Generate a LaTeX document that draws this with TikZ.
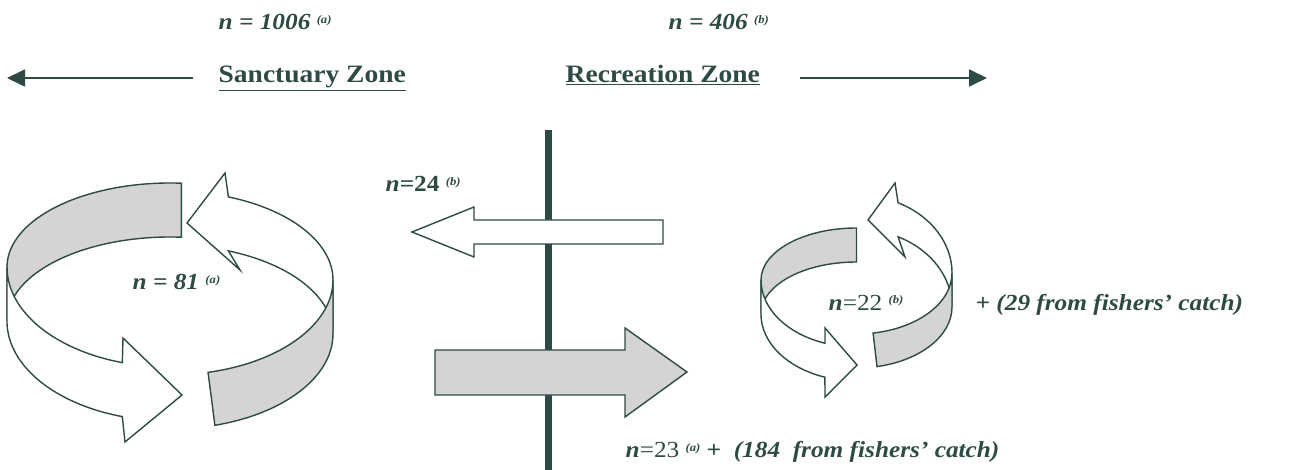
\documentclass[tikz,border=0pt]{standalone}
\usepackage{fontspec}
\setmainfont{Liberation Serif}[FakeStretch=1.1]
\usetikzlibrary{arrows.meta}
\definecolor{ink}{HTML}{2E4A44}
\definecolor{band}{HTML}{D4D4D4}
\newcommand{\fnmark}[1]{\raisebox{6pt}{\fontsize{11.5}{11.5}\selectfont\bfseries\itshape (#1)}}

\begin{document}
\begin{tikzpicture}[x=1pt, y=-1pt, color=ink, line width=1.4pt,
  zonelabel/.style={anchor=base west, inner sep=0pt, font=\fontsize{25}{25}\selectfont\bfseries},
  nlabel/.style={anchor=base west, inner sep=0pt, font=\fontsize{23}{23}\selectfont\bfseries\itshape},
  zonearrow/.style={line width=1.8pt, -{Triangle[length=18pt, width=17pt]}},
  ribbon/.style={draw=ink, fill=white, line join=miter},
  ribbonback/.style={ribbon, fill=band}]
\useasboundingbox (0,0) rectangle (1301,470);
% zone headings
\node[nlabel] (nSanct) at (218,30) {n = 1006 \fnmark{a}};
\node[nlabel] (nRecr) at (668,30) {n = 406 \fnmark{b}};
\node[zonelabel] (sanct) at (218,83) {\underline{Sanctuary Zone}};
\node[zonelabel] (recr) at (565,83) {\underline{Recreation Zone}};
\coordinate (westTail) at (193,78);
\coordinate (westTip) at (7,78);
\coordinate (eastTail) at (800,78);
\coordinate (eastTip) at (987,78);
\draw[zonearrow] (westTail) -- (westTip);
\draw[zonearrow] (eastTail) -- (eastTip);
% zone boundary
\draw[line width=7pt] (548,130) -- (548,470);
% movement across the boundary
\draw[ribbon] (474,220) -- (663,220) -- (663,244) -- (474,244) -- (474,257) -- (412,232) -- (474,207) -- cycle;
\draw[ribbonback] (435,350) -- (625,350) -- (625,328) -- (687,372) -- (625,417) -- (625,395) -- (435,395) -- cycle;
\node[nlabel] (n24) at (385,192) {n\textup{=24} \fnmark{b}};
\node[nlabel] (n23) at (625,457) {n{\normalfont=23} \fnmark{a} + ~(184 ~from fishers' catch)};
% sanctuary ring
\draw[ribbonback] (181.4,183.2) arc[start angle=274, end angle=180, x radius=163, y radius=84] -- ++(0,54) arc[start angle=180, end angle=274, x radius=163, y radius=84] -- cycle;
\draw[ribbon] (7,267) arc[start angle=180, end angle=107, x radius=163, y radius=100] -- (123,338) -- (182,395) -- (125,442) -- (122.3,416.6) arc[start angle=107, end angle=180, x radius=163, y radius=100] -- cycle;
\draw[ribbon] (187,223) -- (225,173) -- (228.4,196.9) arc[start angle=291, end angle=360, x radius=163, y radius=89] -- ++(0,54) arc[start angle=360, end angle=291, x radius=163, y radius=89] -- (240,270) -- cycle;
\draw[ribbonback] (333,280) arc[start angle=0, end angle=76.5, x radius=163, y radius=95] -- (214.9,425.3) arc[start angle=74, end angle=0, x radius=163, y radius=95] -- cycle;
\node[nlabel] (n81) at (132,290) {n = 81 \fnmark{a}};
% recreation ring
\draw[ribbonback] (856.5,228) arc[start angle=270, end angle=180, x radius=95.5, y radius=52] -- ++(0,34) arc[start angle=180, end angle=270, x radius=95.5, y radius=52] -- cycle;
\draw[ribbon] (761,280) arc[start angle=180, end angle=109.3, x radius=95.5, y radius=67] -- (825,328) -- (857,365) -- (825,397) -- (824.9,377.2) arc[start angle=109.3, end angle=180, x radius=95.5, y radius=67] -- cycle;
\draw[ribbon] (868,220) -- (895,183) -- (898.1,202.8) arc[start angle=295.8, end angle=360, x radius=95.5, y radius=78] -- ++(0,34) arc[start angle=360, end angle=295.8, x radius=95.5, y radius=78] -- (905,257) -- cycle;
\draw[ribbonback] (952,273) arc[start angle=0, end angle=80, x radius=95.5, y radius=61] -- (877,366.6) arc[start angle=77.6, end angle=0, x radius=95.5, y radius=61] -- cycle;
\node[nlabel] (n22) at (828,310) {n{\normalfont=22} \fnmark{b}};
\node[nlabel] (fish29) at (975,310) {+ (29 from fishers' catch)};
\end{tikzpicture}
\end{document}
